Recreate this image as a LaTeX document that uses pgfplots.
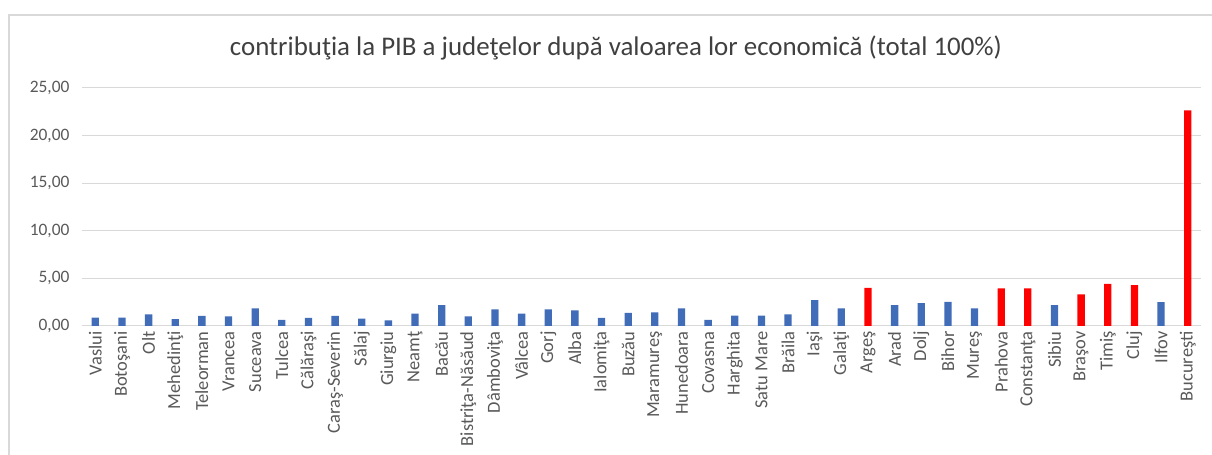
\documentclass[border=0pt]{standalone}
\usepackage{fontspec}
\setmainfont{Carlito}
\usepackage{pgfplots}
\pgfplotsset{compat=1.18}
\definecolor{barblue}{RGB}{64,108,184}
\definecolor{barred}{RGB}{255,0,0}
\definecolor{gridgrey}{RGB}{217,217,217}
\definecolor{labelgrey}{RGB}{89,89,89}
\definecolor{titlegrey}{RGB}{64,64,64}
\begin{document}
\begin{tikzpicture}[x=1bp,y=1bp]
\begin{axis}[
  anchor=south west,
  scale only axis, width=1119bp, height=238bp,
  xmin=-0.5, xmax=41.5, ymin=0, ymax=25,
  ytick={0,5,...,25}, xtick={0,...,41},
  ybar, bar width=7.3bp, bar shift=0pt,
  axis line style={draw=none},
  major tick length=0pt,
  ymajorgrids, grid style={gridgrey, line width=1bp},
  xticklabels={Vaslui,Botoşani,Olt,Mehedinţi,Teleorman,Vrancea,Suceava,Tulcea,
    Călăraşi,Caraş-Severin,Sălaj,Giurgiu,Neamţ,Bacău,Bistriţa-Năsăud,Dâmboviţa,
    Vâlcea,Gorj,Alba,Ialomiţa,Buzău,Maramureş,Hunedoara,Covasna,Harghita,
    Satu Mare,Brăila,Iaşi,Galaţi,Argeş,Arad,Dolj,Bihor,Mureş,Prahova,Constanţa,
    Sibiu,Braşov,Timiş,Cluj,Ilfov,Bucureşti},
  x tick label style={rotate=90, anchor=east, xshift=-2bp,
    font=\fontsize{18.5}{20}\selectfont, text=labelgrey},
  y tick label style={xshift=-9bp, font=\fontsize{17.5}{20}\selectfont, text=labelgrey},
  /pgf/number format/.cd, fixed, fixed zerofill, precision=2, use comma,
  assume math mode=true,
]
\addplot[fill=barblue, draw=none] coordinates {
  (0,0.87) (1,0.87) (2,1.22) (3,0.73) (4,1.05) (5,1.00) (6,1.85) (7,0.63)
  (8,0.84) (9,1.05) (10,0.77) (11,0.60) (12,1.30) (13,2.20) (14,1.00)
  (15,1.74) (16,1.29) (17,1.74) (18,1.64) (19,0.84) (20,1.39) (21,1.43)
  (22,1.85) (23,0.63) (24,1.08) (25,1.08) (26,1.22) (27,2.72) (28,1.85)
  (30,2.20) (31,2.40) (32,2.54) (33,1.85) (36,2.20) (40,2.51)
};
\addplot[fill=barred, draw=none] coordinates {
  (29,4.00) (34,3.94) (35,3.94) (37,3.31) (38,4.43) (39,4.29) (41,22.65)
};
\end{axis}
% chart area frame (left and top edges visible)
\draw[gridgrey, line width=1.5bp] (-73,-129) -- (-73,311) -- (1130,311);
\node[font=\fontsize{27}{32}\selectfont, text=titlegrey] at (534,278)
  {contribuţia la PIB a judeţelor după valoarea lor economică (total 100\%)};
\pgfresetboundingbox
\path[use as bounding box] (-82,-129) rectangle (1130,326);
\end{tikzpicture}
\end{document}
